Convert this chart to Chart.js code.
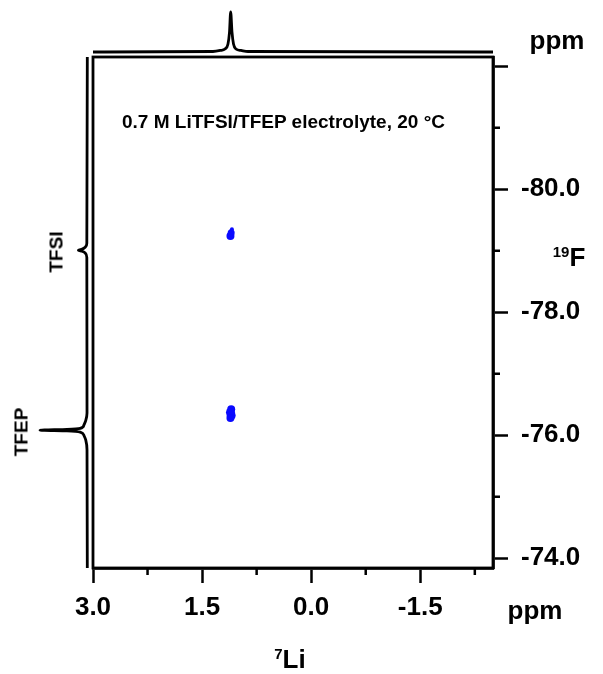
<!DOCTYPE html>
<html>
<head>
<style>
    body { margin: 0; background: #fff; }
    #wrap { position: relative; width: 603px; height: 674px; overflow: hidden;
            font-family: "Liberation Sans", Arial, sans-serif; font-weight: bold; color: #000; }
    #wrap canvas { position: absolute; }
    .lbl { position: absolute; white-space: nowrap; line-height: 1; transform: translate(-50%, -50%); }
    .big { font-size: 26px; }
    .rot { transform: translate(-50%, -50%) rotate(-90deg); font-size: 19px; }
    sup { font-size: 15px; vertical-align: 9px; line-height: 0; }
</style>
</head>
<body>
<div id="wrap">
    <canvas id="main" width="603" height="674" style="left:0;top:0"></canvas>
    <canvas id="top" width="400" height="52" style="left:93px;top:6px"></canvas>
    <canvas id="left" width="90" height="523" style="left:0;top:51px"></canvas>

    <div class="lbl big" style="left:557px;top:40px">ppm</div>
    <div class="lbl big" style="left:535px;top:610px">ppm</div>
    <div class="lbl big" style="left:569px;top:257px"><sup>19</sup>F</div>
    <div class="lbl big" style="left:290px;top:659px"><sup>7</sup>Li</div>
    <div class="lbl" style="left:122px;top:121px;font-size:19px;transform:translate(0,-50%)">0.7 M LiTFSI/TFEP electrolyte, 20 °C</div>
    <div class="lbl rot" style="left:56px;top:252px">TFSI</div>
    <div class="lbl rot" style="left:21px;top:432px">TFEP</div>
</div>

<script src="https://cdn.jsdelivr.net/npm/chart.js"></script>
<script>
    // 7Li projection on top (ppm, intensity)
    const liPpm = [3.0, 1.35, 1.25, 1.185, 1.144, 1.123, 1.107, 1.089, 1.068, 1.034, 0.965, 0.869, -2.5];
    const liInt = [0, 1.2, 3.8, 7.5, 20, 50, 100, 50, 20, 7.5, 3.8, 1.2, 0];

    // 19F projection on the left (ppm, intensity)
    const fPpm = [-82.15, -79.12, -79.06, -79.025, -79.008, -78.99, -78.96, -78.89,
                  -76.36, -76.24, -76.16, -76.11, -76.093, -76.081, -76.07, -76.05, -76.0, -75.92, -75.76, -73.84];
    const fInt = [0, 1, 4, 11, 19, 11, 4, 1,
                  0.6, 3.2, 7.4, 15, 43, 100, 43, 15, 7.4, 3.2, 0.6, 0];

    // cross peaks (7Li ppm, 19F ppm)
    const tfsiLi = [1.11, 1.10, 1.09];
    const tfsiF = [-79.24, -79.29, -79.35];
    const tfepLi = [1.10, 1.11, 1.10, 1.11];
    const tfepF = [-76.42, -76.37, -76.32, -76.28];

    // axis ticks
    const xMajor = [3.0, 1.5, 0.0, -1.5];
    const xMinor = [2.25, 0.75, -0.75, -2.25];
    const yMajor = [-82, -80, -78, -76, -74];
    const yMinor = [-81, -79, -77, -75];

    const FONT = '"Liberation Sans", Arial, sans-serif';
    const zip = (a, b) => a.map((v, i) => ({x: v, y: b[i]}));

    const frameAndMinor = {
        id: 'frameAndMinor',
        afterDraw(chart) {
            const ctx = chart.ctx, a = chart.chartArea;
            const sx = chart.scales.x, sy = chart.scales.y;
            ctx.save();
            ctx.strokeStyle = '#000';
            ctx.lineWidth = 2.5;
            ctx.beginPath();
            for (const v of xMinor) {
                const px = sx.getPixelForValue(v);
                ctx.moveTo(px, a.bottom); ctx.lineTo(px, a.bottom + 7);
            }
            for (const v of yMinor) {
                const py = sy.getPixelForValue(v);
                ctx.moveTo(a.right, py); ctx.lineTo(a.right + 7, py);
            }
            ctx.stroke();
            ctx.lineWidth = 2.8;
            ctx.strokeRect(a.left, a.top, a.width, a.height);
            ctx.restore();
        }
    };

    const mainChart = new Chart(document.getElementById('main'), {
        type: 'scatter',
        data: {
            datasets: [
                { data: zip(tfsiLi, tfsiF), backgroundColor: '#0a0aff', borderWidth: 0, pointRadius: [4, 3.5, 2] },
                { data: zip(tfepLi, tfepF), backgroundColor: '#0a0aff', borderWidth: 0, pointRadius: [4, 4.5, 4.5, 4] }
            ]
        },
        options: {
            responsive: false,
            animation: false,
            layout: { padding: { left: 93, top: 57, right: 0, bottom: 0 } },
            plugins: { legend: { display: false }, tooltip: { enabled: false } },
            scales: {
                x: {
                    type: 'linear', min: -2.5, max: 3.0, reverse: true,
                    afterBuildTicks: s => { s.ticks = xMajor.map(v => ({value: v})); },
                    afterFit: s => { s.height = 106; },
                    grid: { drawOnChartArea: false, tickLength: 15, tickWidth: 2.5, tickColor: '#000' },
                    border: { display: true, color: '#000', width: 2.8 },
                    ticks: { color: '#000', padding: 9, maxRotation: 0, autoSkip: false,
                             font: { family: FONT, size: 26, weight: 'bold' },
                             callback: v => v.toFixed(1) }
                },
                y: {
                    type: 'linear', position: 'right', min: -82.15, max: -73.84, reverse: true,
                    afterBuildTicks: s => { s.ticks = yMajor.map(v => ({value: v})); },
                    afterFit: s => { s.width = 110; },
                    grid: { drawOnChartArea: false, tickLength: 15, tickWidth: 2.5, tickColor: '#000' },
                    border: { display: true, color: '#000', width: 2.8 },
                    ticks: { color: '#000', padding: 13, autoSkip: false,
                             font: { family: FONT, size: 26, weight: 'bold' },
                             callback: v => v === -82 ? '' : v.toFixed(1) }
                }
            }
        },
        plugins: [frameAndMinor]
    });

    const topChart = new Chart(document.getElementById('top'), {
        type: 'scatter',
        data: {
            datasets: [{ data: zip(liPpm, liInt), showLine: true, borderColor: '#000', borderWidth: 2.8,
                         pointRadius: 0, cubicInterpolationMode: 'monotone', clip: false }]
        },
        options: {
            responsive: false,
            animation: false,
            layout: { padding: { left: 0, right: 0, top: 6, bottom: 6 } },
            plugins: { legend: { display: false }, tooltip: { enabled: false } },
            scales: {
                x: { type: 'linear', display: false, min: -2.5, max: 3.0, reverse: true },
                y: { type: 'linear', display: false, min: 0, max: 100 }
            }
        }
    });

    const leftChart = new Chart(document.getElementById('left'), {
        type: 'scatter',
        data: {
            datasets: [{ data: zip(fInt, fPpm), showLine: true, borderColor: '#000', borderWidth: 2.8,
                         pointRadius: 0, cubicInterpolationMode: 'monotone', clip: false }]
        },
        options: {
            responsive: false,
            animation: false,
            indexAxis: 'y',
            layout: { padding: { left: 0, right: 2.7, top: 6, bottom: 6 } },
            plugins: { legend: { display: false }, tooltip: { enabled: false } },
            scales: {
                x: { type: 'linear', display: false, min: 0, max: 184.6, reverse: true },
                y: { type: 'linear', display: false, min: -82.15, max: -73.84, reverse: true }
            }
        }
    });
</script>
</body>
</html>
